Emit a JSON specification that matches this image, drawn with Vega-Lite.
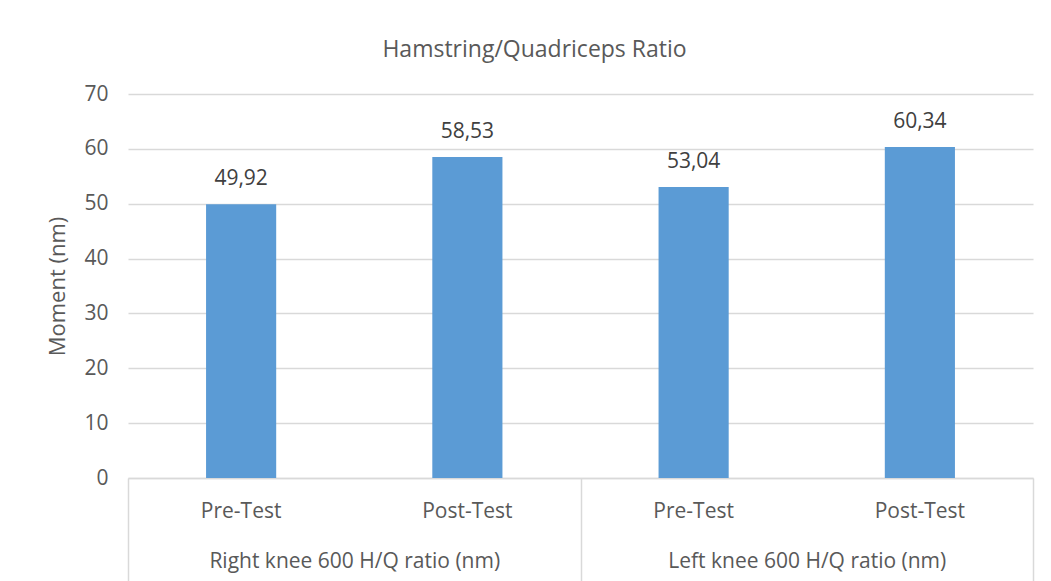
{
  "$schema": "https://vega.github.io/schema/vega-lite/v6.json",
  "width": 905,
  "height": 384,
  "autosize": {"type": "none"},
  "padding": {"left": 128, "top": 94, "right": 18, "bottom": 103},
  "background": "white",
  "config": {
    "font": "Open Sans",
    "view": {"stroke": null},
    "locale": {"number": {"decimal": ",", "thousands": ".", "grouping": [3], "currency": ["", ""]}}
  },
  "data": {
    "values": [
      {"key": "Right|Pre-Test", "group": "Right knee 600 H/Q ratio (nm)", "test": "Pre-Test", "value": 49.92},
      {"key": "Right|Post-Test", "group": "Right knee 600 H/Q ratio (nm)", "test": "Post-Test", "value": 58.53},
      {"key": "Left|Pre-Test", "group": "Left knee 600 H/Q ratio (nm)", "test": "Pre-Test", "value": 53.04},
      {"key": "Left|Post-Test", "group": "Left knee 600 H/Q ratio (nm)", "test": "Post-Test", "value": 60.34}
    ]
  },
  "encoding": {
    "y": {
      "field": "value",
      "type": "quantitative",
      "scale": {"domain": [0, 70]},
      "axis": {
        "title": "Moment (nm)",
        "titleFont": "Open Sans",
        "titleFontSize": 22,
        "titleFontWeight": "normal",
        "titleColor": "#595959",
        "titlePadding": 14,
        "values": [0, 10, 20, 30, 40, 50, 60, 70],
        "labelFont": "Open Sans",
        "labelFontSize": 21,
        "labelColor": "#595959",
        "labelPadding": 20,
        "domain": false,
        "ticks": false,
        "grid": true,
        "gridColor": "#d9d9d9",
        "gridWidth": 1.5
      }
    }
  },
  "layer": [
    {
      "encoding": {
        "x": {
          "field": "key",
          "type": "nominal",
          "sort": null,
          "scale": {"paddingInner": 0.69, "paddingOuter": 0.345},
          "axis": {
            "orient": "bottom",
            "title": null,
            "labelExpr": "split(datum.label, '|')[1]",
            "labelAngle": 0,
            "labelFont": "Open Sans",
            "labelFontSize": 21,
            "labelColor": "#595959",
            "labelBaseline": "middle",
            "labelPadding": 33,
            "ticks": false,
            "domain": false,
            "grid": false
          }
        }
      },
      "layer": [
        {"mark": {"type": "bar", "color": "#5B9BD5"}},
        {
          "mark": {"type": "text", "font": "Open Sans", "fontSize": 21, "color": "#404040", "baseline": "middle", "dy": -25},
          "encoding": {"text": {"field": "value", "type": "quantitative", "format": ".2f"}}
        }
      ]
    },
    {
      "mark": {"type": "bar", "opacity": 0},
      "encoding": {
        "x": {
          "field": "group",
          "type": "nominal",
          "sort": null,
          "scale": {"paddingInner": 0, "paddingOuter": 0},
          "axis": {
            "orient": "bottom",
            "title": null,
            "labelAngle": 0,
            "labelFont": "Open Sans",
            "labelFontSize": 21,
            "labelLimit": 0,
            "labelColor": "#595959",
            "labelBaseline": "middle",
            "labelPadding": -27,
            "ticks": true,
            "tickBand": "extent",
            "tickSize": 110,
            "tickColor": "#d9d9d9",
            "tickWidth": 1.5,
            "domain": true,
            "domainColor": "#d9d9d9",
            "domainWidth": 1.5,
            "grid": false
          }
        }
      }
    },
    {
      "mark": {"type": "bar", "opacity": 0},
      "encoding": {
        "x": {
          "field": "test",
          "type": "nominal",
          "axis": {
            "orient": "top",
            "title": "Hamstring/Quadriceps  Ratio",
            "titleFont": "Open Sans",
            "titleFontSize": 23,
            "titleFontWeight": "normal",
            "titleColor": "#595959",
            "titleX": 406,
            "titlePadding": 33,
            "labels": false,
            "ticks": false,
            "domain": false,
            "grid": false
          }
        }
      }
    }
  ],
  "resolve": {"scale": {"x": "independent"}}
}
